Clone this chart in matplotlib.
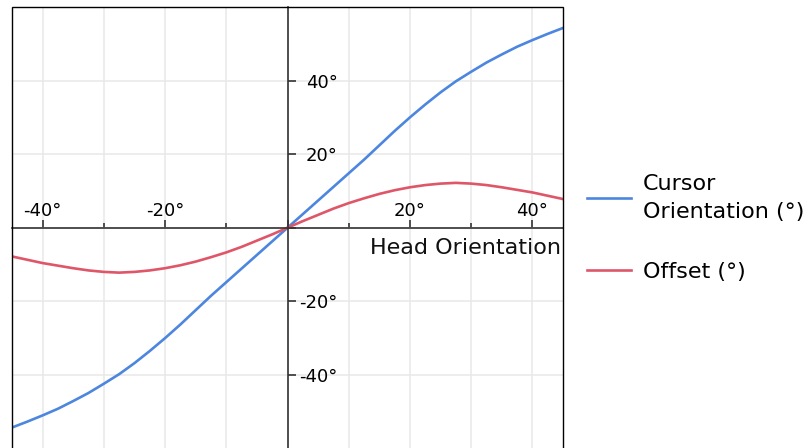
import matplotlib
matplotlib.use("Agg")
import matplotlib.pyplot as plt
from matplotlib.ticker import FixedLocator, FuncFormatter
from matplotlib.patches import Rectangle

head = [-45, -42.5, -40, -37.5, -35, -32.5, -30, -27.5, -25, -22.5, -20, -17.5, -15,
        -12.5, -10, -7.5, -5, -2.5, 0, 2.5, 5, 7.5, 10, 12.5, 15, 17.5, 20, 22.5,
        25, 27.5, 30, 32.5, 35, 37.5, 40, 42.5, 45]
cursor = [-54.3, -52.7, -51.0, -49.2, -47.1, -44.9, -42.4, -39.8, -36.8, -33.5, -30.0,
          -26.3, -22.4, -18.5, -14.8, -11.1, -7.4, -3.7, 0.0, 3.7, 7.4, 11.1, 14.8,
          18.5, 22.4, 26.3, 30.0, 33.5, 36.8, 39.8, 42.4, 44.9, 47.1, 49.2, 51.0,
          52.7, 54.3]
offset = [-7.8, -8.7, -9.6, -10.3, -11.0, -11.6, -12.0, -12.2, -12.0, -11.6, -11.0,
          -10.2, -9.2, -8.0, -6.7, -5.2, -3.5, -1.8, 0.0, 1.8, 3.5, 5.2, 6.7, 8.0,
          9.2, 10.2, 11.0, 11.6, 12.0, 12.2, 12.0, 11.6, 11.0, 10.3, 9.6, 8.7, 7.8]

x_major = [-40, -20, 0, 20, 40]
x_minor = [-30, -10, 10, 30]
y_major = [-40, -20, 0, 20, 40]

W, H = 808, 448
fig = plt.figure(figsize=(W / 100, H / 100), dpi=100)
ax = fig.add_axes([12 / W, -0.5 / H, (563 - 12) / W, (448.5 - 7) / H])

blue = "#4C86DF"
red = "#DE5668"
l1, = ax.plot(head, cursor, color=blue, lw=1.9, label="Cursor\nOrientation (°)", zorder=3)
l2, = ax.plot(head, offset, color=red, lw=1.9, label="Offset (°)", zorder=3)

ax.set_xlim(-45, 45)
ax.set_ylim(-60, 60)

# spines
ax.spines["left"].set_visible(False)
ax.spines["bottom"].set_visible(False)
ax.spines["top"].set_position(("data", 0))
ax.spines["right"].set_position(("data", 0))
for s in ("top", "right"):
    ax.spines[s].set_color("#333333")
    ax.spines[s].set_linewidth(1.2)
    ax.spines[s].set_zorder(4)
ax.add_patch(Rectangle((0, 0), 1, 1, transform=ax.transAxes, fill=False,
                       edgecolor="black", lw=1.0, zorder=5, clip_on=False))

ax.xaxis.set_ticks_position("top")
ax.yaxis.set_ticks_position("right")
ax.xaxis.set_major_locator(FixedLocator(x_major))
ax.xaxis.set_minor_locator(FixedLocator(x_minor))
ax.yaxis.set_major_locator(FixedLocator(y_major))
ax.yaxis.set_minor_locator(FixedLocator([]))
fmt = FuncFormatter(lambda v, p: "" if v == 0 else f"{v:.0f}°")
ax.xaxis.set_major_formatter(fmt)
ax.yaxis.set_major_formatter(fmt)

ax.tick_params(axis="x", which="major", direction="out", length=5.8, width=1.2,
               color="#333333", labelsize=13, pad=-0.5)
ax.tick_params(axis="x", which="minor", direction="out", length=3.6, width=1.2,
               color="#333333")
ax.tick_params(axis="y", which="major", direction="out", length=5.8, width=1.2,
               color="#333333", labelsize=13, pad=30.2)
for lab in ax.get_yticklabels():
    lab.set_horizontalalignment("right")

ax.grid(True, axis="x", which="both", color="#e8e8e8", lw=1.1, zorder=0)
ax.grid(True, axis="y", which="major", color="#e8e8e8", lw=1.1, zorder=0)
ax.set_axisbelow(True)

ax.text(44.67, -7.07, "Head Orientation", ha="right", va="baseline", fontsize=16,
        color="#111111", zorder=6)

leg = fig.legend(handles=[l1, l2], loc="center left", bbox_to_anchor=(587 / W, 1 - 228 / H),
                 frameon=False, fontsize=16, handlelength=2.0, handletextpad=0.52,
                 labelspacing=1.8, borderpad=0, borderaxespad=0)
for t in leg.get_texts():
    t.set_linespacing(1.45)

fig.savefig("out.png", dpi=100)
